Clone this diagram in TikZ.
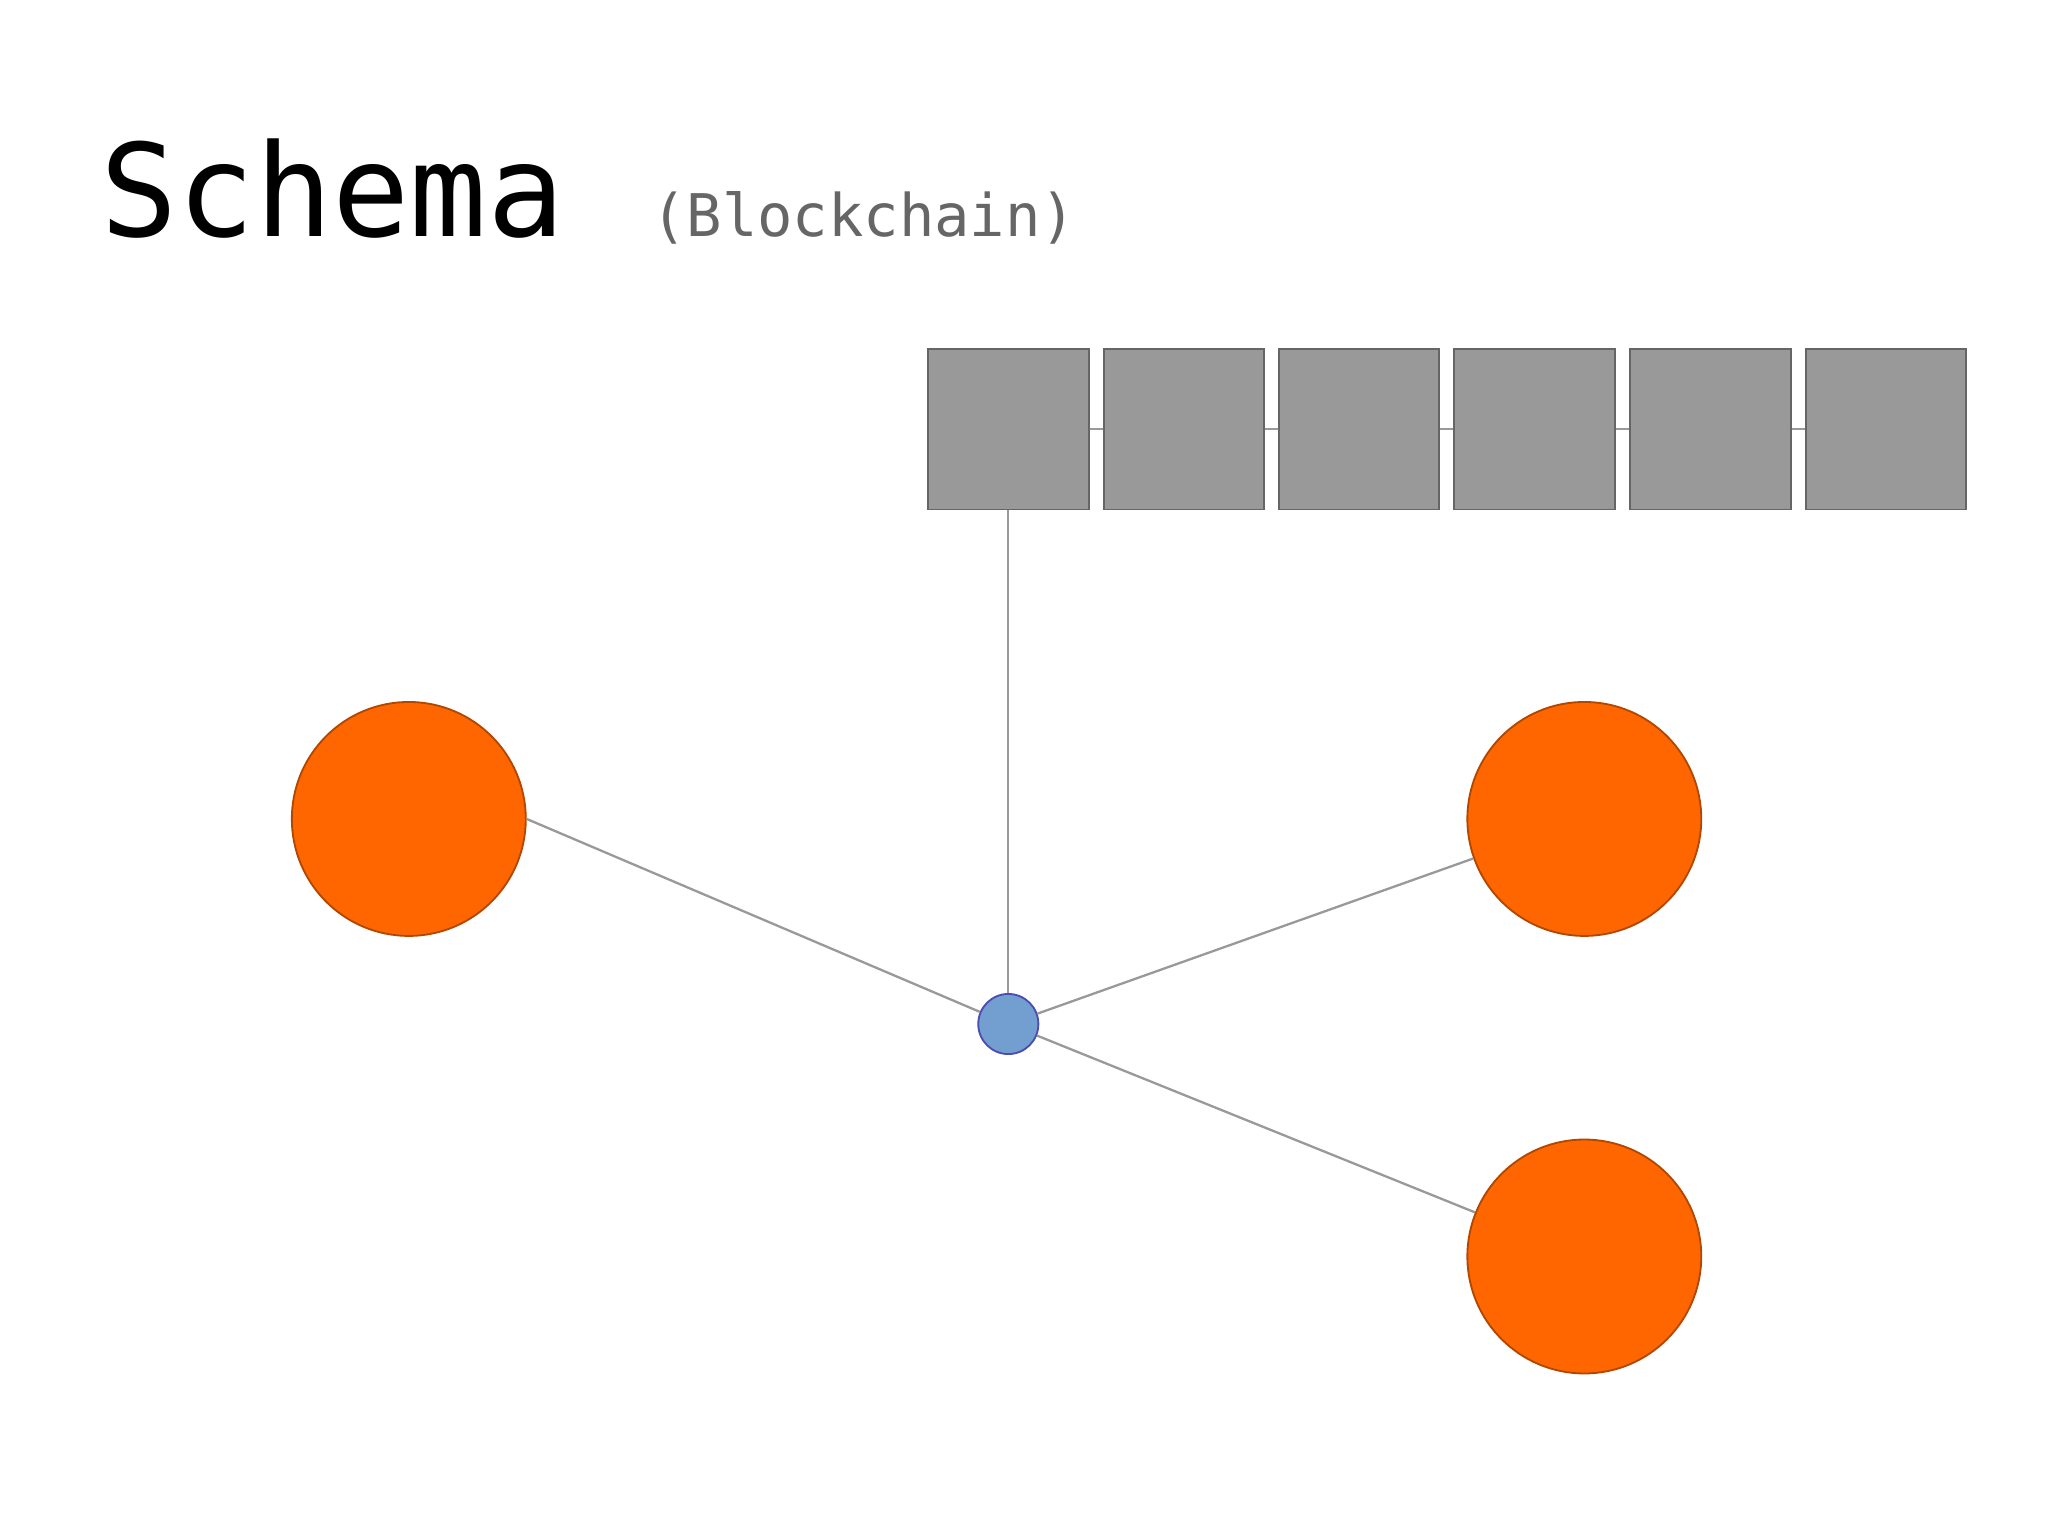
\documentclass[tikz,border=0pt]{standalone}
\usepackage{fontspec}
\setmonofont{DejaVu Sans Mono}
\begin{document}
\begin{tikzpicture}[x=0.01cm,y=-0.01cm,
  blk/.style={draw=black!60,fill=black!40,line width=0.4pt,minimum width=1.23cm,minimum height=1.23cm,inner sep=0pt},
  peer/.style={circle,draw=black!50!orange,fill=orange!100!red,line width=0.4pt,minimum size=1.79cm,inner sep=0pt},
  hub/.style={circle,draw=blue!40!gray,fill={rgb,255:red,114;green,159;blue,207},minimum size=0.46cm,inner sep=0pt},
  link/.style={draw=black!40,line width=0.5pt}]
\definecolor{orange}{RGB}{255,102,0}
\useasboundingbox[fill=white] (0,0) rectangle (1568,1175);
\node[anchor=base west,font=\ttfamily\fontsize{28}{30}\selectfont,inner sep=0pt] (title) at (76,181) {Schema};
\node[anchor=base west,font=\ttfamily\fontsize{12.8}{14}\selectfont,text=black!60,inner sep=0pt] (sub) at (498,181) {(Blockchain)};
\foreach \i/\x in {1/772,2/906.5,3/1040.5,4/1175,5/1309.5,6/1444}
  \node[blk] (b\i) at (\x,328.5) {};
\foreach \a/\b in {1/2,2/3,3/4,4/5,5/6}
  \draw[link] (b\a.east) -- (b\b.west);
\node[hub] (h) at (772,784) {};
\node[peer,fill=orange,draw=orange!70!black] (p1) at (313,627) {};
\node[peer,fill=orange,draw=orange!70!black] (p2) at (1213,627) {};
\node[peer,fill=orange,draw=orange!70!black] (p3) at (1213,962) {};
\draw[link] (b1.south) -- (h);
\draw[link] (h) -- (p1.east);
\draw[link] (h) -- (p2);
\draw[link] (h) -- (p3);
\end{tikzpicture}
\end{document}
